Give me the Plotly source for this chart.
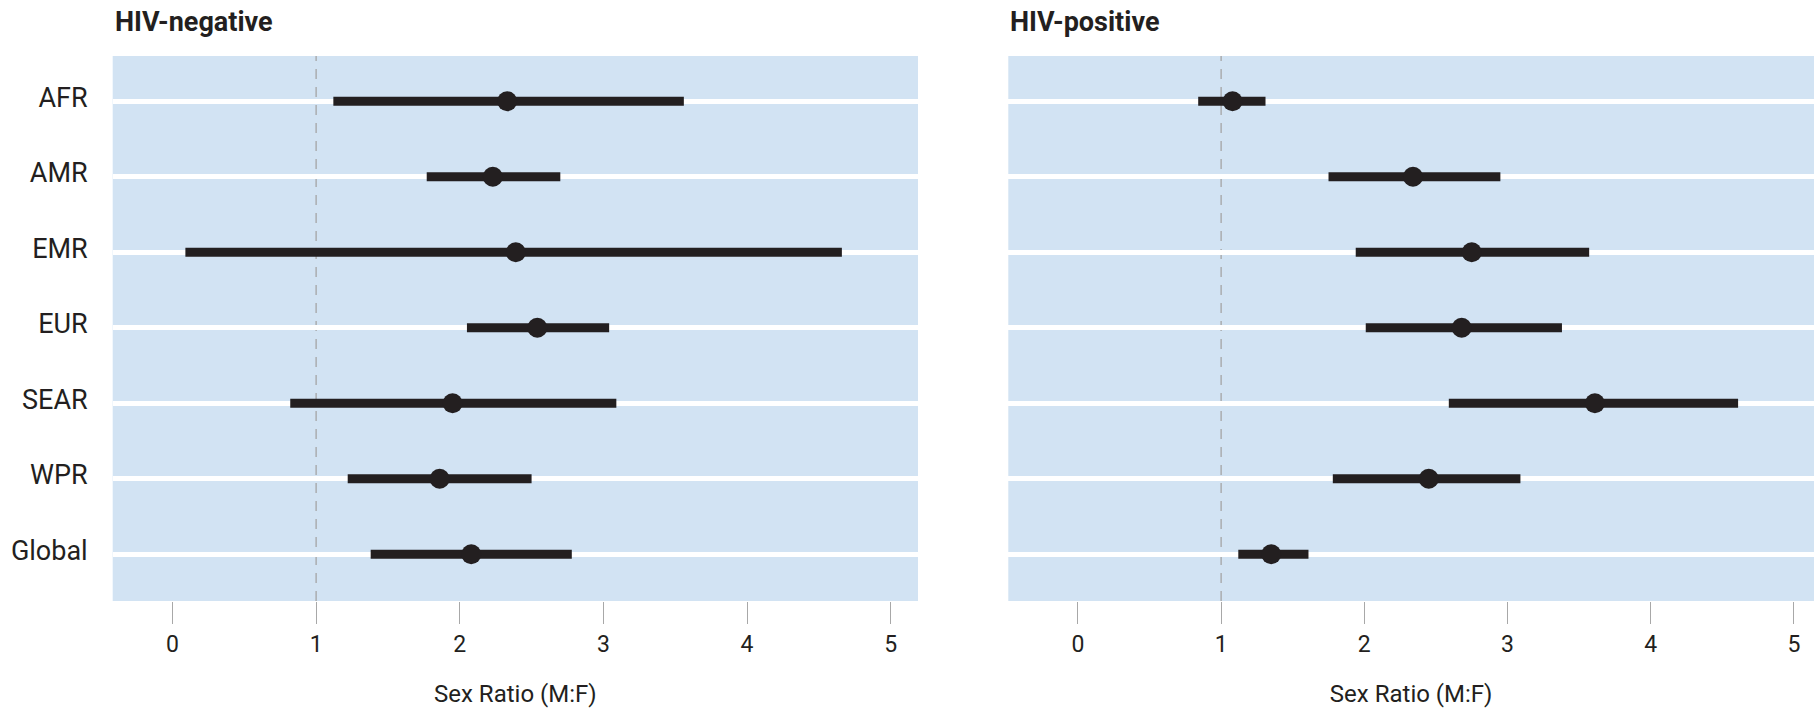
import plotly.graph_objects as go

regions = ["AFR", "AMR", "EMR", "EUR", "SEAR", "WPR", "Global"]

neg_low = [1.12, 1.77, 0.09, 2.05, 0.82, 1.22, 1.38]
neg_est = [2.33, 2.23, 2.39, 2.54, 1.95, 1.86, 2.08]
neg_high = [3.56, 2.70, 4.66, 3.04, 3.09, 2.50, 2.78]

pos_low = [0.84, 1.75, 1.94, 2.01, 2.59, 1.78, 1.12]
pos_est = [1.08, 2.34, 2.75, 2.68, 3.61, 2.45, 1.35]
pos_high = [1.31, 2.95, 3.57, 3.38, 4.61, 3.09, 1.61]

panel_titles = ["HIV-negative", "HIV-positive"]
x_ticks = [0, 1, 2, 3, 4, 5]
ref_value = 1
x_title = "Sex Ratio (M:F)"

FONT = "Roboto, 'Open Sans', sans-serif"
DARK = "#231F20"
BG = "#D2E3F3"
W, H = 1814, 709

fig = go.Figure()

panels = [
    (neg_low, neg_est, neg_high, "x", "y"),
    (pos_low, pos_est, pos_high, "x2", "y2"),
]
for lo, est, hi, xa, ya in panels:
    xs, ys = [], []
    for r, a, b in zip(regions, lo, hi):
        xs += [a, b, None]
        ys += [r, r, None]
    fig.add_trace(go.Scatter(x=xs, y=ys, mode="lines", xaxis=xa, yaxis=ya,
                             line=dict(color=DARK, width=9), hoverinfo="skip",
                             showlegend=False))
    fig.add_trace(go.Scatter(x=est, y=regions, mode="markers", xaxis=xa, yaxis=ya,
                             marker=dict(color=DARK, size=20, line=dict(width=0)),
                             showlegend=False))

left_dom = [112.7 / W, 918 / W]
right_dom = [1008.3 / W, 1.0]
y_dom = [108 / H, (H - 56) / H]

xcommon = dict(showgrid=False, zeroline=False, showline=False, ticks="outside",
               ticklen=22, tickcolor="#A8A8A8", tickwidth=1.2, automargin=False,
               tickvals=x_ticks, ticktext=[str(t) for t in x_ticks],
               tickfont=dict(family=FONT, size=23, color=DARK),
               title=dict(text=x_title, font=dict(family=FONT, size=24, color=DARK), standoff=28))
ycommon = dict(type="category", categoryorder="array", categoryarray=regions,
               range=[6.62, -0.6], showgrid=True, gridcolor="white", gridwidth=4.5,
               zeroline=False, showline=False, ticks="", automargin=False,
               tickfont=dict(family=FONT, size=27, color=DARK))

fig.update_layout(
    width=W, height=H, margin=dict(l=0, r=0, t=0, b=0),
    paper_bgcolor="white", plot_bgcolor=BG,
    xaxis=dict(domain=left_dom, range=[-0.416, 5.19], anchor="y", **xcommon),
    yaxis=dict(domain=y_dom, anchor="x", ticklabelstandoff=24, ticklabelshift=4, **ycommon),
    xaxis2=dict(domain=right_dom, range=[-0.486, 5.14], anchor="y2", **xcommon),
    yaxis2=dict(domain=y_dom, anchor="x2", showticklabels=False, **ycommon),
)

for xa, ya in [("x", "y"), ("x2", "y2")]:
    fig.add_shape(type="line", xref=xa, yref=f"{ya} domain", x0=ref_value, x1=ref_value,
                  y0=0, y1=1, layer="below",
                  line=dict(color="#A5A5A5", width=1.3, dash="10px,8px"))

for title, dom in zip(panel_titles, [left_dom, right_dom]):
    fig.add_annotation(text=f"<b>{title}</b>", xref="paper", yref="paper",
                       x=dom[0], y=1 - 22 / H, xanchor="left", yanchor="middle",
                       showarrow=False, font=dict(family=FONT, size=27, color=DARK))

fig.write_html("out.html", config={"displayModeBar": False},
               post_script="document.body.style.margin='0';")
